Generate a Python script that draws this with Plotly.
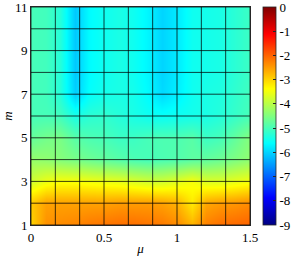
import plotly.graph_objects as go

# data grid
mu = [0.0, 0.1, 0.2, 0.3, 0.4, 0.5, 0.6, 0.7, 0.8, 0.9, 1.0, 1.1, 1.2, 1.3, 1.4, 1.5]
m_vals = [1, 2, 3, 4, 5, 6, 7, 8, 9, 10, 11]

row_m1 = [-3.0, -2.4, -2.35, -2.3, -2.2, -2.15, -2.1, -2.1, -2.15, -2.2, -2.35, -2.7, -2.25, -2.1, -2.05, -2.0]
row_m2 = [-2.9, -2.55, -2.55, -2.55, -2.55, -2.55, -2.5, -2.5, -2.5, -2.55, -2.7, -3.2, -2.6, -2.5, -2.45, -2.35]
row_m3 = [-3.8, -3.55, -3.45, -3.45, -3.5, -3.55, -3.6, -3.7, -3.8, -3.8, -3.65, -3.45, -3.7, -3.7, -3.6, -3.5]
row_m4 = [-4.3, -4.35, -4.45, -4.55, -4.65, -4.75, -4.85, -4.95, -5.0, -4.95, -4.9, -4.8, -4.75, -4.65, -4.5, -4.35]
row_m5 = [-4.75, -4.6, -4.55, -4.85, -4.95, -5.0, -5.1, -5.1, -5.0, -4.95, -4.95, -4.85, -5.1, -5.0, -4.75, -4.45]
row_m6 = [-5.0, -5.0, -5.05, -5.4, -5.25, -5.2, -5.3, -5.4, -5.5, -5.55, -5.5, -5.45, -5.4, -5.3, -5.15, -5.0]
row_m7 = [-5.0, -5.05, -5.3, -6.05, -5.6, -5.45, -5.4, -5.45, -5.65, -5.95, -5.75, -5.5, -5.4, -5.35, -5.2, -5.05]
row_m8 = [-5.0, -5.05, -5.3, -6.1, -5.65, -5.5, -5.4, -5.5, -5.7, -6.0, -5.8, -5.5, -5.45, -5.4, -5.25, -5.1]
row_m9 = [-5.0, -5.05, -5.3, -6.1, -5.65, -5.5, -5.4, -5.5, -5.7, -6.0, -5.8, -5.5, -5.45, -5.4, -5.25, -5.1]
row_m10 = [-5.0, -5.05, -5.3, -6.1, -5.65, -5.5, -5.4, -5.5, -5.7, -6.0, -5.8, -5.5, -5.45, -5.4, -5.25, -5.1]
row_m11 = [-5.0, -5.05, -5.3, -6.1, -5.65, -5.5, -5.4, -5.5, -5.7, -6.0, -5.8, -5.5, -5.45, -5.4, -5.25, -5.1]

z = [row_m1, row_m2, row_m3, row_m4, row_m5, row_m6, row_m7, row_m8, row_m9, row_m10, row_m11]

# mesh lines
mesh_mu = [0, 1/6, 2/6, 3/6, 4/6, 5/6, 1, 7/6, 8/6, 1.5]
mesh_m = [1, 2, 3, 4, 5, 6, 7, 8, 9, 10, 11]

x_ticks = [0, 0.5, 1, 1.5]
x_ticklabels = ["0", "0.5", "1", "1.5"]
y_ticks = [1, 3, 5, 7, 9, 11]
cb_ticks = [0, -1, -2, -3, -4, -5, -6, -7, -8, -9]

jet = [
    [0.0, "rgb(0,0,131)"],
    [0.125, "rgb(0,0,255)"],
    [0.375, "rgb(0,255,255)"],
    [0.625, "rgb(255,255,0)"],
    [0.875, "rgb(255,0,0)"],
    [1.0, "rgb(128,0,0)"],
]

font = dict(family="Liberation Serif, DejaVu Serif, serif", size=13, color="black")

fig = go.Figure()
fig.add_trace(go.Heatmap(
    x=mu, y=m_vals, z=z, zsmooth="best", colorscale=jet, zmin=-9, zmax=0,
    hoverinfo="skip",
    colorbar=dict(
        x=1.06, xanchor="left", xref="paper", y=0.5, yanchor="middle", len=1.0,
        thickness=13, outlinecolor="#262626", outlinewidth=0.8,
        tickvals=cb_ticks, ticktext=[str(v) for v in cb_ticks],
        ticks="inside", ticklen=3, tickcolor="#262626",
        tickfont=font, xpad=0, ypad=0, ticklabeloverflow="allow",
    ),
))

# grid mesh as lines
gx, gy = [], []
for xv in mesh_mu:
    gx += [xv, xv, None]
    gy += [mesh_m[0], mesh_m[-1], None]
for yv in mesh_m:
    gx += [mesh_mu[0], mesh_mu[-1], None]
    gy += [yv, yv, None]
fig.add_trace(go.Scatter(x=gx, y=gy, mode="lines",
                         line=dict(color="rgba(0,0,0,0.75)", width=1),
                         hoverinfo="skip", showlegend=False))

fig.update_layout(
    width=292, height=256,
    margin=dict(l=31, r=42, t=7, b=31, autoexpand=False),
    paper_bgcolor="white", plot_bgcolor="white",
    font=font, showlegend=False,
    xaxis=dict(range=[0, 1.5], tickvals=x_ticks, ticktext=x_ticklabels,
               showgrid=False, zeroline=False, showline=True, mirror=True,
               linecolor="#262626", linewidth=0.8, ticks="", tickfont=font,
               ticklabeloverflow="allow",
               title=dict(text="<i>μ</i>", font=font, standoff=7)),
    yaxis=dict(range=[1, 11], tickvals=y_ticks,
               showgrid=False, zeroline=False, showline=True, mirror=True,
               linecolor="#262626", linewidth=0.8, ticks="", tickfont=font,
               ticklabeloverflow="allow",
               title=dict(text="<i>m</i>", font=font, standoff=4)),
)

fig.write_html("out.html", config={"displayModeBar": False},
               post_script="document.body.style.margin='0';document.body.style.overflow='hidden';")
